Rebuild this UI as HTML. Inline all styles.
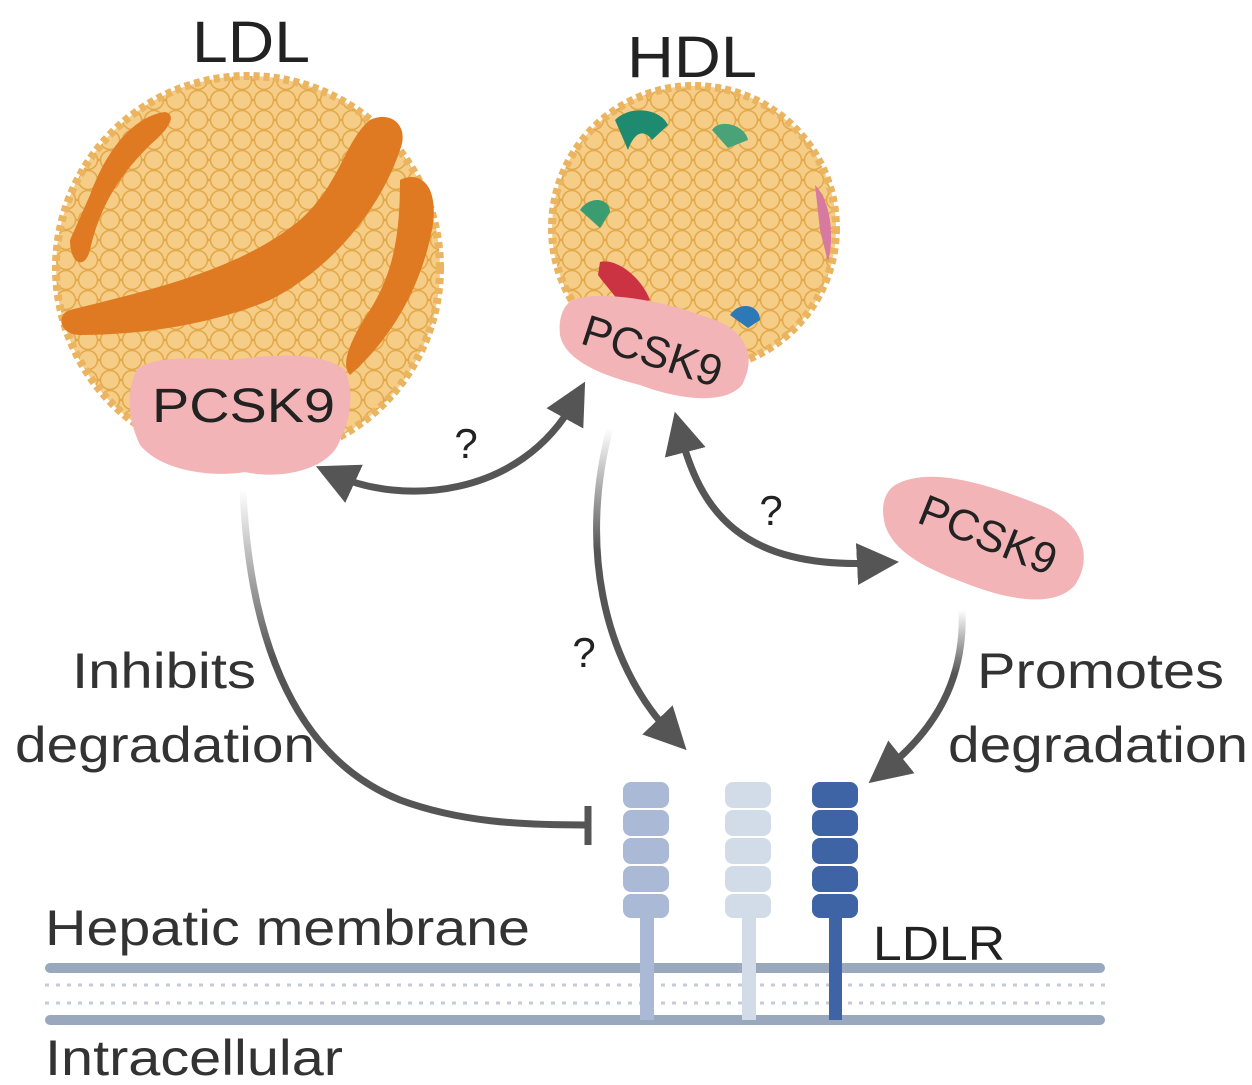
<!DOCTYPE html>
<html><head><style>body{margin:0;background:#fff}svg{display:block}</style></head><body>
<svg width="1252" height="1085" viewBox="0 0 1252 1085" xmlns="http://www.w3.org/2000/svg" font-family="Liberation Sans, sans-serif">
<defs>
<pattern id="dots" width="22" height="20" patternUnits="userSpaceOnUse">
<rect width="22" height="20" fill="#f3c57a"/>
<circle cx="11" cy="10" r="9.5" fill="#f6cd86" stroke="#e2a84a" stroke-width="1.5"/>
<circle cx="0" cy="0" r="9.5" fill="#f6cd86" stroke="#e2a84a" stroke-width="1.5"/>
<circle cx="22" cy="0" r="9.5" fill="#f6cd86" stroke="#e2a84a" stroke-width="1.5"/>
<circle cx="0" cy="20" r="9.5" fill="#f6cd86" stroke="#e2a84a" stroke-width="1.5"/>
<circle cx="22" cy="20" r="9.5" fill="#f6cd86" stroke="#e2a84a" stroke-width="1.5"/>
</pattern>
<linearGradient id="fadeL" x1="0" y1="0" x2="0" y2="1"><stop offset="0" stop-color="#555" stop-opacity="0"/><stop offset="0.5" stop-color="#555" stop-opacity="1"/></linearGradient>
<linearGradient id="fadeH" x1="0" y1="0" x2="0" y2="1"><stop offset="0" stop-color="#555" stop-opacity="0"/><stop offset="0.4" stop-color="#555" stop-opacity="1"/></linearGradient>
<marker id="ah" markerWidth="6" markerHeight="6" refX="3" refY="3" orient="auto" markerUnits="strokeWidth"><path d="M0,0 L6,3 L0,6 Z" fill="#555"/></marker>
<marker id="ahs" markerWidth="6" markerHeight="6" refX="3" refY="3" orient="auto-start-reverse" markerUnits="strokeWidth"><path d="M0,0 L6,3 L0,6 Z" fill="#555"/></marker>
</defs>

<text x="192" y="62" font-size="58" textLength="118" lengthAdjust="spacingAndGlyphs" fill="#222">LDL</text>
<text x="627" y="77" font-size="58" textLength="130" lengthAdjust="spacingAndGlyphs" fill="#222">HDL</text>

<!-- LDL -->
<circle cx="248" cy="268" r="192" fill="url(#dots)" stroke="#eab460" stroke-width="8" stroke-dasharray="6 4"/>
<path d="M90,195 C110,140 140,115 165,112 C178,115 168,130 150,145 C120,175 100,205 90,250 C85,270 70,265 70,240 Z" fill="#e07a22"/>
<path d="M70,310 C150,290 240,270 300,220 C340,185 345,140 370,120 C390,110 410,125 400,150 C380,210 330,270 270,300 C210,325 140,335 80,335 C60,335 55,315 70,310 Z" fill="#e07a22"/>
<path d="M400,180 C420,170 440,185 432,230 C420,290 390,340 350,375 C340,365 350,340 370,310 C395,270 400,230 400,180 Z" fill="#e07a22"/>
<path d="M138,368 C160,355 200,358 230,360 C270,355 320,350 345,370 C355,395 350,420 340,440 C330,470 280,480 245,472 C210,478 160,470 140,445 C128,420 125,390 138,368 Z" fill="#f2b4b6"/>
<text x="152" y="422" font-size="48" textLength="183" lengthAdjust="spacingAndGlyphs" fill="#222">PCSK9</text>

<!-- HDL -->
<circle cx="694" cy="228" r="142" fill="url(#dots)" stroke="#eab460" stroke-width="8" stroke-dasharray="6 4"/>
<path d="M615,120 C630,105 660,108 668,125 L652,140 C645,130 635,130 628,150 Z" fill="#1e8a70"/>
<path d="M712,130 C720,118 745,125 748,140 L728,148 Z" fill="#4aa378"/>
<path d="M580,210 C590,195 610,198 610,212 L600,228 Z" fill="#3a9d72"/>
<path d="M815,185 C830,200 835,235 828,262 L820,230 Z" fill="#d87aa0"/>
<path d="M600,262 C615,258 640,275 650,300 L625,310 C615,295 605,285 598,275 Z" fill="#cc3342"/>
<path d="M730,315 C740,300 760,305 760,320 L748,328 Z" fill="#2d79b8"/>
<path d="M572,300 C600,290 660,300 700,315 C740,325 760,350 742,385 C725,405 680,400 640,385 C600,375 565,360 560,335 C558,315 565,305 572,300 Z" fill="#f2b4b6"/>
<text x="652" y="366" font-size="44" text-anchor="middle" fill="#222" transform="rotate(18 652 352)">PCSK9</text>

<!-- free PCSK9 -->
<path d="M895,485 C930,465 990,485 1040,505 C1080,520 1095,555 1075,585 C1055,608 1010,600 970,585 C930,570 895,555 885,525 C880,505 885,492 895,485 Z" fill="#f2b4b6"/>
<text x="988" y="550" font-size="44" text-anchor="middle" fill="#222" transform="rotate(22 988 535)">PCSK9</text>

<!-- arrows -->
<path d="M335,475 C400,505 520,500 575,400" fill="none" stroke="#555" stroke-width="7" marker-start="url(#ahs)" marker-end="url(#ah)"/>
<text x="466" y="458" font-size="42" text-anchor="middle" fill="#222">?</text>
<path d="M680,432 C700,510 740,570 878,563" fill="none" stroke="#555" stroke-width="7" marker-start="url(#ahs)" marker-end="url(#ah)"/>
<text x="771" y="525" font-size="42" text-anchor="middle" fill="#222">?</text>
<path d="M610,428 C580,540 600,660 672,735" fill="none" stroke="url(#fadeH)" stroke-width="7" marker-end="url(#ah)"/>
<text x="584" y="667" font-size="42" text-anchor="middle" fill="#222">?</text>
<path d="M962,610 C965,680 935,730 885,770" fill="none" stroke="url(#fadeH)" stroke-width="7" marker-end="url(#ah)"/>
<path d="M243,490 C250,650 300,760 400,800 C460,822 520,825 585,825" fill="none" stroke="url(#fadeL)" stroke-width="7"/>
<line x1="588" y1="806" x2="588" y2="845" stroke="#555" stroke-width="7"/>

<text x="72" y="688" font-size="50" textLength="184" lengthAdjust="spacingAndGlyphs" fill="#333">Inhibits</text>
<text x="15" y="762" font-size="50" textLength="300" lengthAdjust="spacingAndGlyphs" fill="#333">degradation</text>
<text x="977" y="688" font-size="50" textLength="247" lengthAdjust="spacingAndGlyphs" fill="#333">Promotes</text>
<text x="948" y="762" font-size="50" textLength="300" lengthAdjust="spacingAndGlyphs" fill="#333">degradation</text>
<text x="45" y="945" font-size="50" textLength="485" lengthAdjust="spacingAndGlyphs" fill="#333">Hepatic membrane</text>
<text x="45" y="1075" font-size="50" textLength="298" lengthAdjust="spacingAndGlyphs" fill="#333">Intracellular</text>
<text x="873" y="960" font-size="48" textLength="132" lengthAdjust="spacingAndGlyphs" fill="#222">LDLR</text>

<!-- membrane -->
<g>
<rect x="45" y="963" width="1060" height="10" rx="5" fill="#9aa8bd"/>
<rect x="45" y="1015" width="1060" height="10" rx="5" fill="#9aa8bd"/>
<g stroke="#c4ccd9" stroke-width="3">
<line x1="45" y1="985" x2="1105" y2="985" stroke-dasharray="4 7"/>
<line x1="45" y1="1003" x2="1105" y2="1003" stroke-dasharray="4 7"/>
</g>
</g>

<!-- receptors -->
<g fill="#a9b9d6">
<rect x="640" y="900" width="14" height="120"/>
<rect x="623" y="782" width="46" height="26" rx="8"/><rect x="623" y="810" width="46" height="26" rx="8"/><rect x="623" y="838" width="46" height="26" rx="8"/><rect x="623" y="866" width="46" height="26" rx="8"/><rect x="623" y="894" width="46" height="24" rx="8"/>
</g>
<g fill="#d2dbe8">
<rect x="742" y="900" width="14" height="120"/>
<rect x="725" y="782" width="46" height="26" rx="8"/><rect x="725" y="810" width="46" height="26" rx="8"/><rect x="725" y="838" width="46" height="26" rx="8"/><rect x="725" y="866" width="46" height="26" rx="8"/><rect x="725" y="894" width="46" height="24" rx="8"/>
</g>
<g fill="#3f64a6">
<rect x="829" y="900" width="13" height="120"/>
<rect x="812" y="782" width="46" height="26" rx="8"/><rect x="812" y="810" width="46" height="26" rx="8"/><rect x="812" y="838" width="46" height="26" rx="8"/><rect x="812" y="866" width="46" height="26" rx="8"/><rect x="812" y="894" width="46" height="24" rx="8"/>
</g>
</svg>
</body></html>
